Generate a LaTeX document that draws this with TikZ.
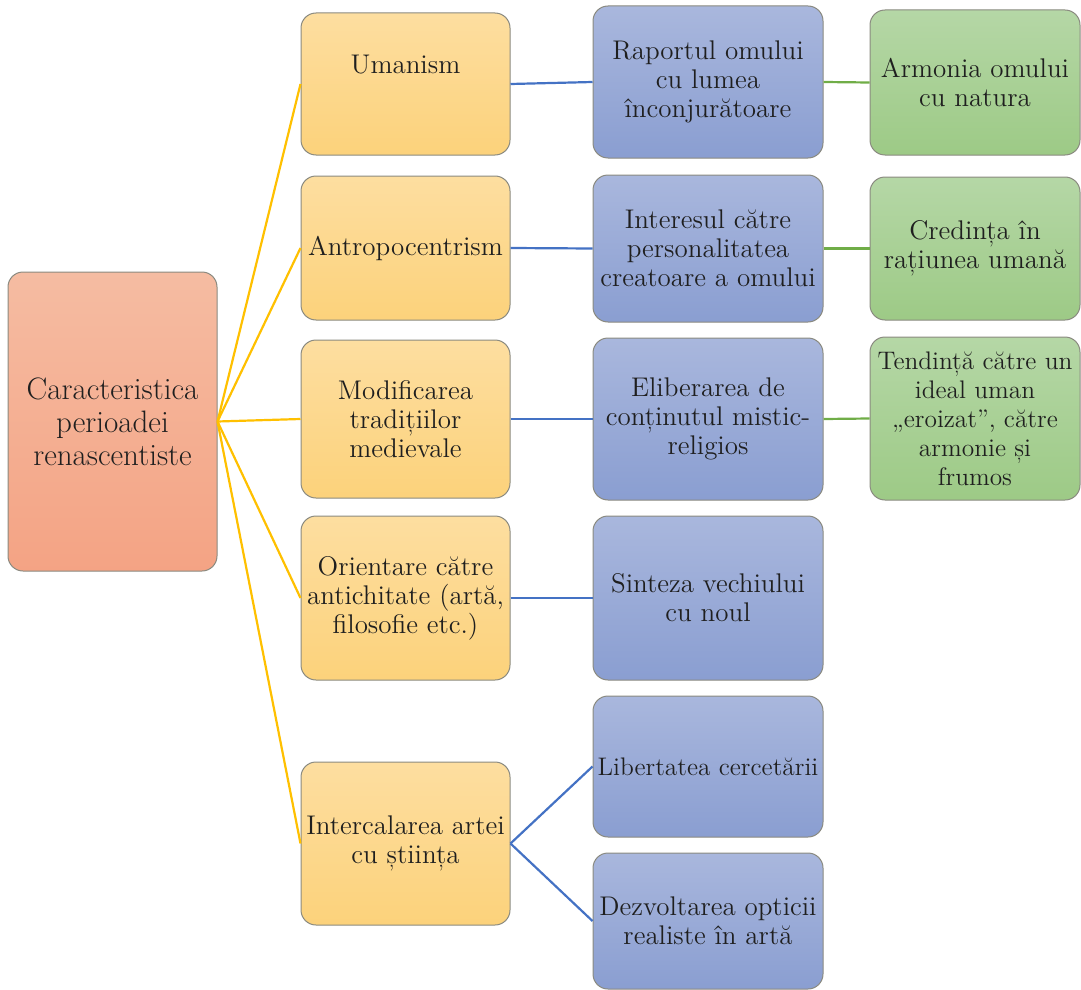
\documentclass[tikz,border=0pt]{standalone}
\usepackage{fontspec}
\definecolor{rootT}{HTML}{F5BCA2}
\definecolor{rootB}{HTML}{F4A384}
\definecolor{yelT}{HTML}{FDDEA0}
\definecolor{yelB}{HTML}{FCD27B}
\definecolor{bluT}{HTML}{A9B7DD}
\definecolor{bluB}{HTML}{8A9ED1}
\definecolor{grnT}{HTML}{B5D7A6}
\definecolor{grnB}{HTML}{9DCA86}
\definecolor{lnY}{HTML}{FFC000}
\definecolor{lnB}{HTML}{4472C4}
\definecolor{lnG}{HTML}{70AD47}
\definecolor{bord}{HTML}{8A8A80}
\begin{document}
\begin{tikzpicture}[x=0.5pt,y=-0.5pt,
  box/.style={draw=bord, line width=0.5pt, rounded corners=7.5pt, align=center,
    inner xsep=0.5pt, inner ysep=1pt, font=\fontsize{13.5}{14.5}\selectfont, text=black!88},
  hh/.style={minimum height={#1*0.5pt}},
  small/.style={font=\fontsize{12.7}{14.5}\selectfont},
  rootbox/.style={box, top color=rootT, bottom color=rootB, minimum width=104.5pt,
    minimum height=149.5pt, font=\fontsize{15.5}{16.5}\selectfont},
  ybox/.style={box, top color=yelT, bottom color=yelB, minimum width=104.5pt},
  bbox/.style={box, top color=bluT, bottom color=bluB, minimum width=115pt},
  gbox/.style={box, top color=grnT, bottom color=grnB, minimum width=105pt},
  yline/.style={draw=lnY, line width=1.1pt},
  bline/.style={draw=lnB, line width=1.1pt},
  gline/.style={draw=lnG, line width=1.1pt}
]
\useasboundingbox (0,0) rectangle (1081,990);

\node[rootbox] (root) at (112.5,421.5) {Caracteristica\\perioadei\\renascentiste};

\node[ybox, hh=142] (u1) at (405.5,84) {\raisebox{9.5pt}[\height][\depth]{Umanism}};
\node[ybox, hh=144] (u2) at (405.5,248) {Antropocentrism};
\node[ybox, hh=158] (u3) at (405.5,419) {Modificarea\\tradițiilor\\medievale};
\node[ybox, hh=164] (u4) at (405.5,598) {Orientare către\\antichitate (artă,\\filosofie etc.)};
\node[ybox, hh=163] (u5) at (405.5,843.5) {Intercalarea artei\\cu știința};

\node[bbox, hh=152] (b1) at (708,82) {Raportul omului\\cu lumea\\înconjurătoare};
\node[bbox, hh=147] (b2) at (708,248.5) {Interesul către\\personalitatea\\creatoare a omului};
\node[bbox, hh=162] (b3) at (708,419) {Eliberarea de\\conținutul mistic-\\religios};
\node[bbox, hh=164] (b4) at (708,598) {Sinteza vechiului\\cu noul};
\node[bbox, hh=141, small] (b5) at (708,766.5) {Libertatea cercetării};
\node[bbox, hh=136] (b6) at (708,921) {Dezvoltarea opticii\\realiste în artă};

\node[gbox, hh=145] (g1) at (975,82.5) {Armonia omului\\cu natura};
\node[gbox, hh=143] (g2) at (975,248.5) {Credința în\\rațiunea umană};
\node[gbox, hh=163, small] (g3) at (975,418.5) {Tendință către un\\ideal uman\\„eroizat”, către\\armonie și\\frumos};

\foreach \u in {u1,u2,u3,u4,u5} \draw[yline] (root.east) -- (\u.west);
\draw[bline] (u1.east) -- (b1.west);
\draw[bline] (u2.east) -- (b2.west);
\draw[bline] (u3.east) -- (b3.west);
\draw[bline] (u4.east) -- (b4.west);
\draw[bline] (u5.east) -- (b5.west);
\draw[bline] (u5.east) -- (b6.west);
\draw[gline] (b1.east) -- (g1.west);
\draw[gline] (b2.east) -- (g2.west);
\draw[gline] (b3.east) -- (g3.west);
\end{tikzpicture}
\end{document}
